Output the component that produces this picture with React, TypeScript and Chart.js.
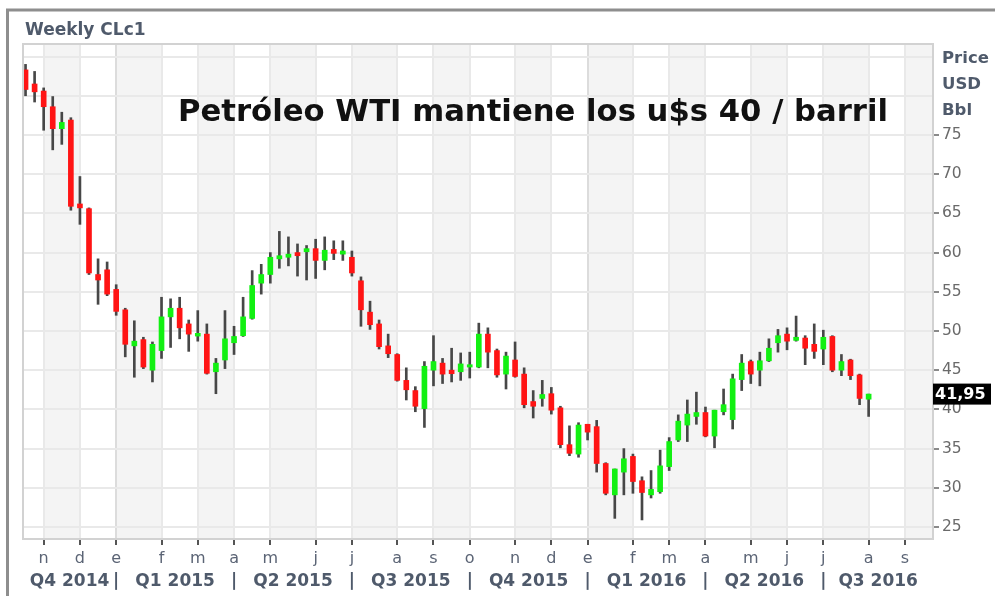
import React, { useEffect, useRef } from 'react';
import { Chart, registerables } from 'chart.js';

Chart.register(...registerables);

// ---- Data (weekly WTI candles, Oct 2014 – Aug 2016) ----
const openP = [
  83.3, 81.5, 80.6, 78.6, 75.8, 76.9, 66.2, 65.6, 57.2, 57.8,
  55.3, 52.7, 48.1, 48.9, 45.0, 47.5, 51.8, 52.9, 50.9, 49.35,
  49.6, 44.8, 46.3, 48.5, 49.4, 51.6, 56.1, 57.2, 59.2, 59.4,
  60.0, 60.1, 60.5, 59.0, 60.4, 59.8, 59.4, 56.4, 52.4, 50.9,
  48.1, 47.0, 43.7, 42.4, 40.1, 45.0, 45.9, 45.0, 44.8, 45.4,
  45.4, 49.6, 47.5, 44.5, 46.3, 44.5, 41.0, 41.4, 42.0, 40.2,
  35.5, 34.3, 38.1, 37.8, 33.1, 29.1, 32.0, 34.0, 30.9, 29.1,
  29.5, 32.7, 36.1, 38.0, 39.1, 39.6, 36.6, 39.7, 38.7, 43.8,
  46.1, 45.0, 46.2, 48.5, 49.6, 48.8, 49.1, 48.3, 47.7, 49.3,
  45.0, 46.3, 44.4, 41.3,
];
const highP = [
  84.0, 83.1, 81.0, 79.9, 77.9, 77.2, 69.7, 65.7, 59.2, 58.8,
  55.9, 52.9, 51.3, 49.2, 48.6, 54.3, 54.1, 54.3, 51.4, 52.6,
  50.9, 46.5, 52.6, 50.6, 54.3, 57.7, 58.5, 60.0, 62.7, 62.0,
  61.1, 60.9, 61.7, 62.0, 61.5, 61.5, 60.2, 56.9, 53.8, 51.4,
  49.6, 47.1, 45.3, 42.9, 46.1, 49.4, 46.5, 47.8, 47.2, 47.3,
  51.0, 50.4, 47.7, 47.3, 48.6, 45.3, 42.4, 43.7, 42.8, 40.4,
  37.9, 38.3, 38.1, 38.6, 33.2, 32.4, 35.0, 34.3, 31.4, 32.2,
  34.8, 36.4, 39.3, 41.2, 42.2, 40.3, 39.9, 42.6, 44.5, 47.0,
  46.3, 47.3, 49.0, 50.2, 50.4, 51.9, 49.4, 50.9, 50.1, 49.4,
  47.0, 46.4, 44.5, 41.95,
];
const lowP = [
  80.0, 79.2, 75.6, 73.1, 73.8, 65.4, 63.6, 57.2, 53.4, 54.5,
  52.0, 46.7, 44.1, 45.2, 43.5, 46.5, 47.9, 49.0, 47.4, 48.7,
  44.5, 42.0, 45.2, 47.0, 49.3, 51.5, 54.7, 56.1, 58.0, 58.3,
  57.0, 56.5, 56.7, 57.8, 59.1, 59.0, 57.0, 50.6, 50.2, 47.7,
  46.6, 43.6, 41.2, 39.7, 37.7, 43.0, 43.3, 43.5, 43.7, 44.0,
  45.3, 45.3, 44.1, 42.6, 44.1, 40.2, 38.9, 40.4, 39.4, 35.1,
  34.1, 33.9, 36.1, 32.0, 29.1, 26.1, 29.1, 29.3, 25.9, 28.7,
  29.3, 32.2, 35.9, 35.9, 38.1, 36.5, 35.1, 39.3, 37.5, 42.4,
  43.3, 43.0, 46.1, 47.3, 47.6, 48.7, 45.7, 46.5, 45.7, 44.8,
  44.3, 43.8, 40.6, 39.1,
];
const closeP = [
  80.8, 80.5, 78.6, 75.8, 76.6, 65.9, 65.7, 57.4, 56.5, 54.7,
  52.5, 48.3, 48.7, 45.4, 48.3, 51.8, 52.9, 50.4, 49.6, 49.7,
  44.6, 45.9, 49.0, 49.3, 51.8, 55.8, 57.2, 59.4, 59.6, 59.8,
  59.6, 60.5, 59.0, 60.3, 59.9, 60.2, 57.4, 52.7, 50.8, 48.0,
  47.1, 43.7, 42.5, 40.4, 45.5, 46.1, 44.5, 44.55, 45.8, 45.7,
  49.6, 47.3, 44.4, 46.8, 44.2, 40.6, 40.4, 41.9, 39.9, 35.5,
  34.4, 38.0, 37.1, 33.1, 29.3, 32.4, 33.7, 30.8, 29.4, 29.8,
  32.8, 35.9, 38.5, 39.4, 39.6, 36.6, 39.9, 40.6, 43.9, 45.9,
  44.5, 46.2, 47.8, 49.4, 48.7, 49.2, 47.8, 47.4, 49.2, 45.0,
  46.1, 44.3, 41.4, 41.95,
];

// Month ticks (week index of first weekly bar of each month)
const monthTickIdx = [2, 6, 10, 15, 19, 23, 27, 32, 36, 41, 45, 49, 54, 58, 62, 67, 71, 75, 80, 84, 88, 93, 97];
const monthLabels = ['n', 'd', 'e', 'f', 'm', 'a', 'm', 'j', 'j', 'a', 's', 'o', 'n', 'd', 'e', 'f', 'm', 'a', 'm', 'j', 'j', 'a', 's'];
const quarterBounds = [10, 23, 36, 49, 62, 75, 88];
const quarterLabels = ['Q4 2014', 'Q1 2015', 'Q2 2015', 'Q3 2015', 'Q4 2015', 'Q1 2016', 'Q2 2016', 'Q3 2016'];
const yTickValues = [25, 30, 35, 40, 45, 50, 55, 60, 65, 70, 75, 80, 85];
const yLabelMax = 75;

const seriesName = 'Weekly CLc1';
const unitLines = ['Price', 'USD', 'Bbl'];
const chartTitle = 'Petróleo WTI mantiene los u$s 40 / barril';
const lastPriceLabel = '41,95';
const lastPrice = 41.95;

const X_MIN = -0.28;
const X_MAX = 100.1;
const Y_MIN = 23.47;
const Y_MAX = 86.6;

const GREEN = '#12f012';
const RED = '#ff1414';
const WICK = '#474747';
const LABEL_BLUE = '#4f5a6b';

export default function App() {
  const ref = useRef<HTMLCanvasElement | null>(null);

  useEffect(() => {
    const canvas = ref.current;
    if (!canvas) return;

    const quarterEdges = [X_MIN, ...quarterBounds, X_MAX];
    const quarterCenters = quarterLabels.map((_, i) => (quarterEdges[i] + quarterEdges[i + 1]) / 2);
    const qTicks: { value: number; label: string }[] = [];
    quarterLabels.forEach((l, i) => {
      qTicks.push({ value: quarterCenters[i], label: l });
      if (i < quarterBounds.length) qTicks.push({ value: quarterBounds[i], label: '|' });
    });

    const bandPlugin = {
      id: 'bands',
      beforeDraw(chart: any) {
        const { ctx, chartArea: a } = chart;
        const x = chart.scales.x;
        ctx.save();
        ctx.fillStyle = '#f4f4f4';
        for (let k = 0; k < monthTickIdx.length; k += 2) {
          const x0 = x.getPixelForValue(monthTickIdx[k]);
          const x1 = k + 1 < monthTickIdx.length ? x.getPixelForValue(monthTickIdx[k + 1]) : a.right;
          ctx.fillRect(x0, a.top, Math.min(x1, a.right) - x0, a.bottom - a.top);
        }
        ctx.restore();
      },
    };

    const decorPlugin = {
      id: 'decor',
      afterDraw(chart: any) {
        const { ctx, chartArea: a } = chart;
        const y = chart.scales.y;
        ctx.save();
        // outer frame
        ctx.strokeStyle = '#8e8e8e';
        ctx.lineWidth = 3;
        ctx.strokeRect(7.5, 10, 1100, 700);
        // plot frame
        ctx.strokeStyle = '#d2d2d2';
        ctx.lineWidth = 2;
        ctx.strokeRect(a.left, a.top, a.right - a.left, a.bottom - a.top);
        // series name
        ctx.fillStyle = LABEL_BLUE;
        ctx.font = 'bold 17px "DejaVu Sans"';
        ctx.textAlign = 'left';
        ctx.textBaseline = 'alphabetic';
        ctx.fillText(seriesName, 25, 35);
        // unit lines
        ctx.font = 'bold 16.5px "DejaVu Sans"';
        unitLines.forEach((t, i) => ctx.fillText(t, 942, 63 + i * 26));
        // title, sized to span the same width as the original banner
        ctx.fillStyle = '#111111';
        ctx.font = 'bold 28px "DejaVu Sans"';
        const w = ctx.measureText(chartTitle).width;
        const size = (28 * 710) / w;
        ctx.font = `bold ${size.toFixed(2)}px "DejaVu Sans"`;
        ctx.fillText(chartTitle, 178, 121);
        // last price box
        const py = y.getPixelForValue(lastPrice);
        ctx.fillStyle = '#000000';
        ctx.fillRect(933, py - 10.5, 58, 21);
        ctx.fillStyle = '#ffffff';
        ctx.font = 'bold 16px "DejaVu Sans"';
        ctx.textBaseline = 'middle';
        ctx.fillText(lastPriceLabel, 935, py + 1);
        ctx.restore();
      },
    };

    const chart = new Chart(canvas, {
      type: 'bar',
      data: {
        datasets: [
          {
            label: 'Cuerpo',
            data: openP.map((o, i) => ({ x: i, y: [o, closeP[i]] })) as any,
            backgroundColor: openP.map((o, i) => (closeP[i] >= o ? GREEN : RED)),
            barThickness: 5,
            grouped: false,
            borderWidth: 0,
            order: 0,
          },
          {
            label: 'Mecha',
            data: lowP.map((l, i) => ({ x: i, y: [l, highP[i]] })) as any,
            backgroundColor: WICK,
            barThickness: 2,
            grouped: false,
            borderWidth: 0,
            order: 1,
          },
        ],
      },
      options: {
        animation: false,
        responsive: false,
        maintainAspectRatio: false,
        devicePixelRatio: 1,
        layout: { padding: { left: 23, top: 44, right: 0, bottom: 0 } },
        plugins: { legend: { display: false }, tooltip: { enabled: false }, title: { display: false } },
        scales: {
          x: {
            type: 'linear',
            axis: 'x',
            position: 'bottom',
            min: X_MIN,
            max: X_MAX,
            offset: false,
            weight: 1,
            afterBuildTicks: (s: any) => {
              s.ticks = monthTickIdx.map((v) => ({ value: v }));
            },
            afterFit: (s: any) => {
              s.height = 27;
            },
            ticks: {
              autoSkip: false,
              maxRotation: 0,
              minRotation: 0,
              padding: 4,
              color: '#5b6475',
              font: { family: 'DejaVu Sans', size: 16 },
              callback: (v: any) => {
                const k = monthTickIdx.indexOf(Number(v));
                return k >= 0 ? monthLabels[k] : '';
              },
            },
            grid: {
              offset: false,
              drawOnChartArea: true,
              drawTicks: true,
              tickLength: 6,
              lineWidth: 2,
              color: (c: any) => {
                const k = monthTickIdx.indexOf(c.tick ? c.tick.value : -1);
                return k >= 0 && monthLabels[k] === 'e' ? '#dcdcdc' : '#e9e9e9';
              },
              tickColor: '#555555',
              tickWidth: 2,
            },
            border: { display: false },
          },
          xq: {
            type: 'linear',
            axis: 'x',
            position: 'bottom',
            min: X_MIN,
            max: X_MAX,
            offset: false,
            weight: 2,
            afterBuildTicks: (s: any) => {
              s.ticks = qTicks.map((t) => ({ value: t.value }));
            },
            afterFit: (s: any) => {
              s.height = 30;
            },
            ticks: {
              autoSkip: false,
              maxRotation: 0,
              minRotation: 0,
              padding: 5,
              color: LABEL_BLUE,
              font: { family: 'DejaVu Sans', size: 17, weight: 'bold' },
              callback: (v: any) => {
                const t = qTicks.find((q) => Math.abs(q.value - Number(v)) < 1e-6);
                return t ? t.label : '';
              },
            },
            grid: { display: false, drawTicks: false, offset: false },
            border: { display: false },
          },
          y: {
            type: 'linear',
            position: 'right',
            min: Y_MIN,
            max: Y_MAX,
            afterBuildTicks: (s: any) => {
              s.ticks = yTickValues.map((v) => ({ value: v }));
            },
            afterFit: (s: any) => {
              s.width = 62;
            },
            ticks: {
              padding: 3,
              color: '#6a6a6a',
              font: { family: 'DejaVu Sans', size: 15.5 },
              callback: (v: any) => (Number(v) <= yLabelMax ? String(v) : ''),
            },
            grid: {
              drawOnChartArea: true,
              drawTicks: true,
              tickLength: 6,
              lineWidth: 2,
              color: '#e9e9e9',
              tickColor: (c: any) => (c.tick && c.tick.value > yLabelMax ? 'rgba(0,0,0,0)' : '#8a8a8a'),
              tickWidth: 2,
            },
            border: { display: false },
          },
        },
      } as any,
      plugins: [bandPlugin, decorPlugin],
    });

    return () => chart.destroy();
  }, []);

  return (
    <div style={{ position: 'absolute', left: 0, top: 0, width: 995, height: 596, background: '#ffffff', overflow: 'hidden' }}>
      <canvas ref={ref} width={995} height={596} style={{ display: 'block', width: 995, height: 596 }} />
    </div>
  );
}
